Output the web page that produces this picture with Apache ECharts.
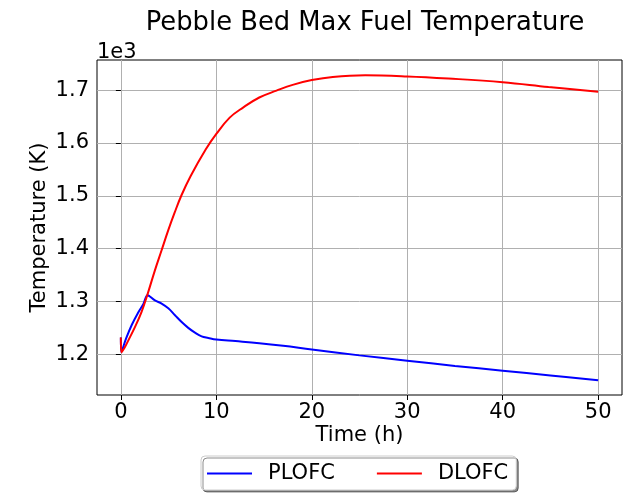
<!DOCTYPE html>
<html><head><meta charset="utf-8">
<script src="https://cdn.jsdelivr.net/npm/echarts@6/dist/echarts.min.js"></script>
<style>html,body{margin:0;padding:0;background:#fff}#c{width:633px;height:495px}</style>
</head><body><div id="c"></div>
<script>
// Data
const plofcTime = [0, 0.05, 0.55, 1.15, 1.85, 2.35, 2.8, 3.0, 3.57, 4.27, 4.97, 5.67, 6.37, 7.06, 7.76, 8.46, 9.16, 10, 12, 14.5, 17, 20, 25, 30, 35, 40, 45, 50];
const plofcTemp = [1232, 1204, 1230, 1256, 1280, 1295, 1312, 1310, 1302, 1296, 1287, 1274, 1261, 1250, 1241, 1234, 1231, 1228, 1225, 1221, 1216, 1209, 1198, 1188, 1178, 1169, 1160, 1151];
const dlofcTime = [0, 0.05, 0.4, 0.77, 1.46, 2.16, 2.8, 3.55, 4.25, 4.95, 5.65, 6.35, 7.3, 8.9, 10, 11.4, 12.8, 14.5, 16.3, 18, 20, 22.2, 25.6, 30, 34.3, 40, 44.8, 50];
const dlofcTemp = [1232, 1204, 1213, 1226, 1251, 1280, 1314, 1358, 1396, 1434, 1469, 1501, 1537, 1588, 1617, 1648, 1667, 1686, 1699, 1710, 1719, 1725, 1728, 1726, 1722, 1715, 1706, 1697];
const xTicks = [0, 10, 20, 30, 40, 50];
const yTicks = [1200, 1300, 1400, 1500, 1600, 1700];

const font = 'DejaVu Sans';
const chart = echarts.init(document.getElementById('c'), null, {renderer: 'canvas'});
chart.setOption({
  animation: false,
  backgroundColor: '#fff',
  title: {
    text: 'Pebble Bed Max Fuel Temperature',
    left: 360, top: 5, textAlign: 'center',
    textStyle: {fontFamily: font, fontSize: 25.8, fontWeight: 'normal', color: '#000'}
  },
  graphic: [{
    type: 'text', left: 97, top: 42,
    style: {text: '1e3', fontFamily: font, fontSize: 21, fill: '#000'}
  }],
  grid: {left: 97, right: 11, top: 60, bottom: 100, show: true, borderColor: '#000', borderWidth: 1, backgroundColor: 'transparent'},
  legend: {
    left: 201, top: 456,
    padding: [7, 8, 6, 6],
    icon: 'rect',
    itemWidth: 45, itemHeight: 2, itemGap: 42,
    borderColor: '#cccccc', borderWidth: 1, borderRadius: 4,
    backgroundColor: '#fff',
    shadowColor: 'rgba(0,0,0,0.45)', shadowBlur: 0, shadowOffsetX: 2, shadowOffsetY: 2,
    textStyle: {fontFamily: font, fontSize: 21, color: '#000', padding: [0, 0, 0, 11]},
    data: ['PLOFC', 'DLOFC']
  },
  xAxis: {
    type: 'value', min: -2.5, max: 52.5,
    name: 'Time (h)', nameLocation: 'middle', nameGap: 30, nameMoveOverlap: false,
    nameTextStyle: {fontFamily: font, fontSize: 21, color: '#000'},
    axisLine: {show: false},
    axisTick: {show: true, length: 5, customValues: xTicks, lineStyle: {color: '#000'}},
    axisLabel: {customValues: xTicks, margin: 7, fontFamily: font, fontSize: 21, color: '#000'},
    splitLine: {show: true, lineStyle: {color: '#b0b0b0', width: 1}}
  },
  yAxis: {
    type: 'value', min: 1123, max: 1757,
    name: 'Temperature (K)', nameLocation: 'middle', nameGap: 47, nameMoveOverlap: false,
    nameTextStyle: {fontFamily: font, fontSize: 21, color: '#000'},
    axisLine: {show: false},
    axisTick: {show: true, length: 5, customValues: yTicks, lineStyle: {color: '#000'}},
    axisLabel: {customValues: yTicks, margin: 8, fontFamily: font, fontSize: 21, color: '#000',
      formatter: v => (v / 1000).toFixed(1)},
    splitLine: {show: true, lineStyle: {color: '#b0b0b0', width: 1}}
  },
  series: [
    {name: 'PLOFC', type: 'line', symbol: 'none', smooth: 0.4,
     lineStyle: {color: '#0000ff', width: 2}, itemStyle: {color: '#0000ff'},
     data: plofcTime.map((t, i) => [t, plofcTemp[i]])},
    {name: 'DLOFC', type: 'line', symbol: 'none', smooth: 0.4,
     lineStyle: {color: '#ff0000', width: 2}, itemStyle: {color: '#ff0000'},
     data: dlofcTime.map((t, i) => [t, dlofcTemp[i]])}
  ]
});
</script></body></html>
